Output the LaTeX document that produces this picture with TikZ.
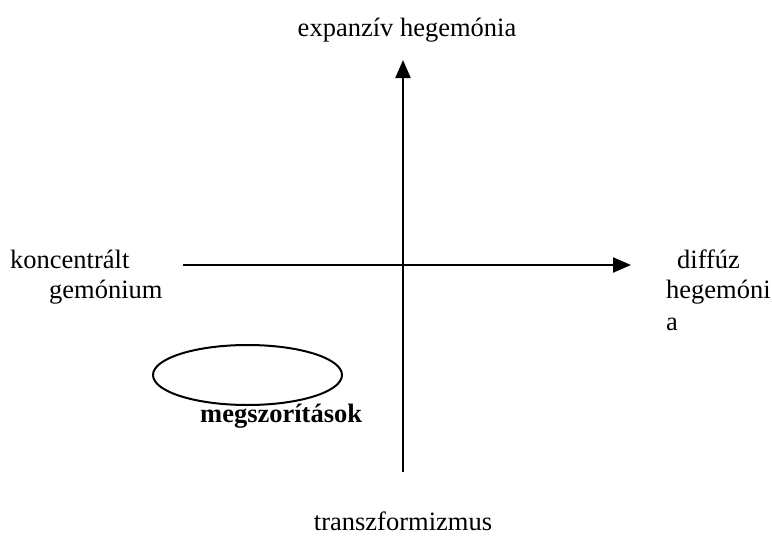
\documentclass[tikz,border=0pt]{standalone}
\usepackage{fontspec}
\setmainfont{Liberation Serif}
\usetikzlibrary{arrows.meta,shapes.geometric}
\begin{document}
\begin{tikzpicture}[x=1pt,y=-1pt,
  lbl/.style={inner sep=0pt, font=\fontsize{26.5}{31}\selectfont},
  axis/.style={line width=2.2pt, -{Triangle[length=18pt,width=15pt]}}]
\useasboundingbox (0,0) rectangle (772,549);
\coordinate (vb) at (403,472);
\coordinate (vt) at (403,60);
\coordinate (hl) at (183,265);
\coordinate (hr) at (631,265);
\draw[axis] (vb) -- (vt);
\draw[axis] (hl) -- (hr);
\node[lbl, anchor=base] (top) at (407,36) {expanzív hegemónia};
\node[lbl, anchor=base west] (k1) at (10,268) {koncentrált};
\node[lbl, anchor=base west] (k2) at (49,298) {gemónium};
\node[lbl, anchor=base west] (d1) at (677,268) {diffúz};
\node[lbl, anchor=base west] (d2) at (666,298) {hegemóni};
\node[lbl, anchor=base west] (d3) at (666,330) {a};
\node[draw, line width=2pt, ellipse, minimum width=189pt, minimum height=60pt, inner sep=0pt] (el) at (247.5,375) {};
\node[lbl, anchor=base west, font=\fontsize{26.5}{31}\selectfont\bfseries] (m) at (200,422) {megszorítások};
\node[lbl, anchor=base] (bot) at (403,530) {transzformizmus};
\end{tikzpicture}
\end{document}
